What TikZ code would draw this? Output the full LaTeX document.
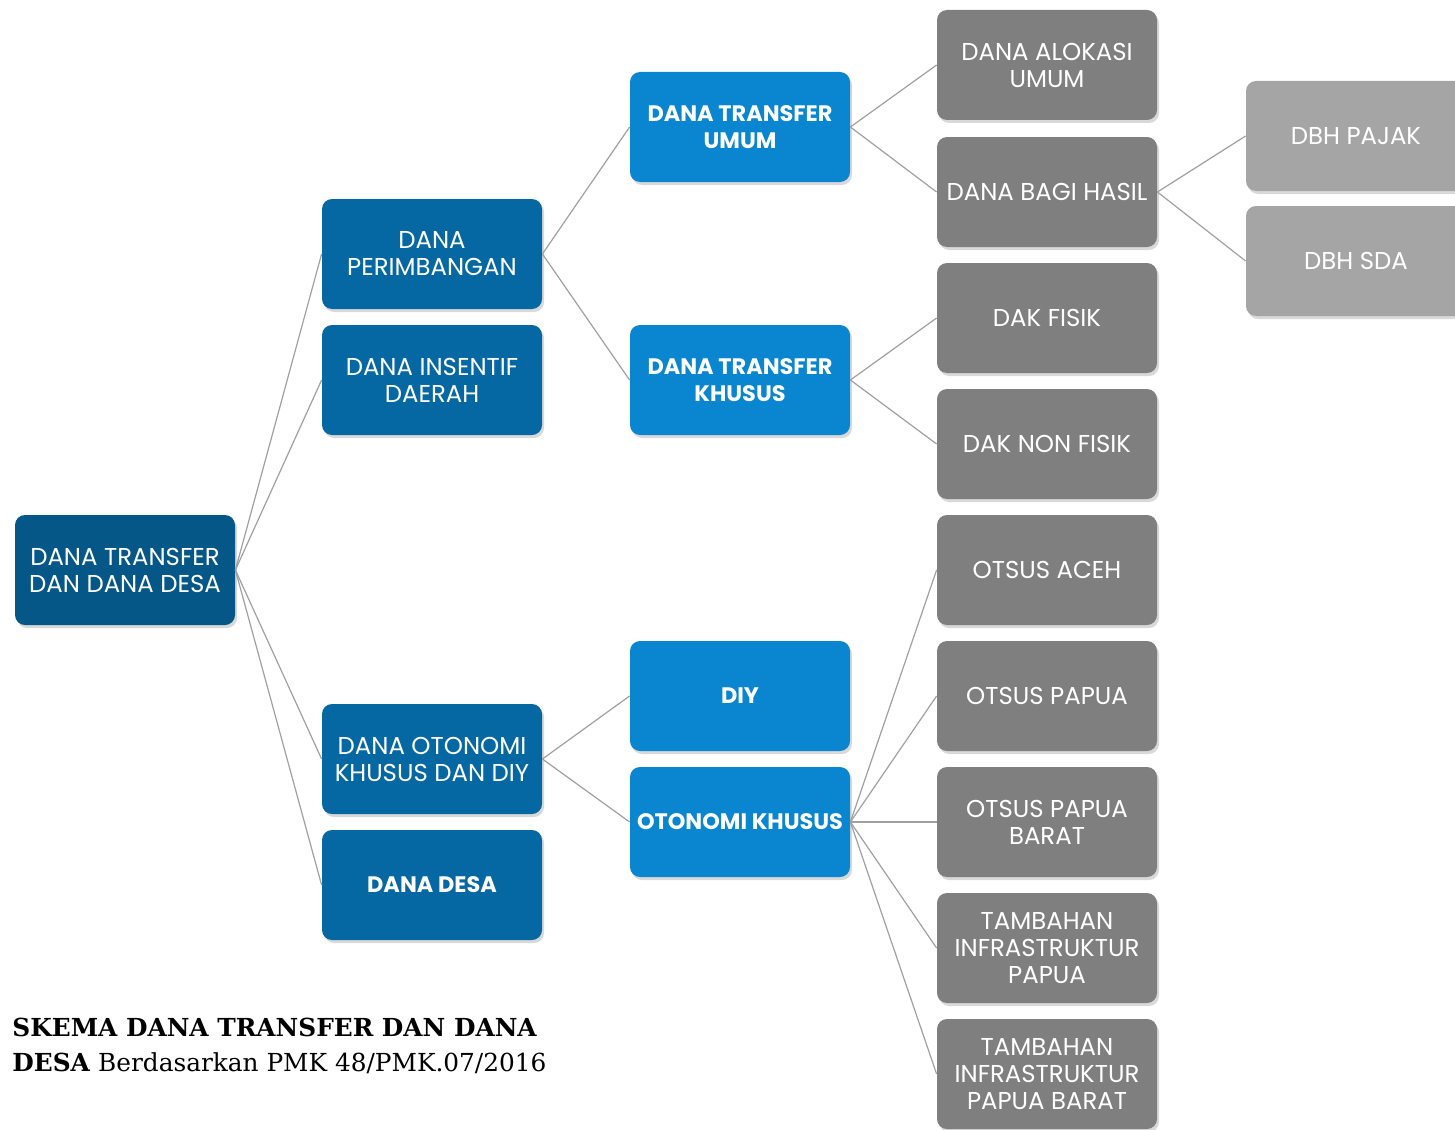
\documentclass[tikz,border=0pt]{standalone}
\usepackage{fontspec}
\setmainfont{Poppins}
\newfontfamily\capfont{DejaVu Serif}
\usetikzlibrary{shadows}

\definecolor{rootblue}{HTML}{045787}
\definecolor{midblue}{HTML}{0568A3}
\definecolor{brightblue}{HTML}{0A86D0}
\definecolor{darkgrey}{HTML}{7F7F7F}
\definecolor{lightgrey}{HTML}{A5A5A5}
\definecolor{linkgrey}{HTML}{A0A0A0}

\tikzset{
  box/.style={rectangle, rounded corners=5pt, minimum width=110pt, minimum height=55pt,
    text=white, align=center, inner sep=2pt, font=\fontsize{12.2}{13.5}\selectfont,
    drop shadow={shadow xshift=1pt, shadow yshift=-1.5pt, opacity=0.3}},
  rootbox/.style={box, fill=rootblue},
  lvlone/.style={box, fill=midblue},
  lvltwo/.style={box, fill=brightblue, font=\fontsize{11.2}{13.5}\selectfont\bfseries},
  lvlthree/.style={box, fill=darkgrey},
  lvlfour/.style={box, fill=lightgrey},
  link/.style={draw=linkgrey, line width=0.6pt},
}

\begin{document}
\begin{tikzpicture}[x=0.5pt, y=-0.5pt]
  \useasboundingbox (0,0) rectangle (1455,1129);
  % root
  \node[rootbox] (root) at (125,570) {DANA TRANSFER\\DAN DANA DESA};
  % first level
  \node[lvlone] (perimb) at (432,254) {DANA\\PERIMBANGAN};
  \node[lvlone] (insentif) at (432,380) {DANA INSENTIF\\DAERAH};
  \node[lvlone] (otdiy) at (432,759) {DANA OTONOMI\\KHUSUS DAN DIY};
  \node[lvlone, font=\fontsize{11.2}{13.5}\selectfont\bfseries] (desa) at (432,885) {DANA DESA};
  % second level
  \node[lvltwo] (dtu) at (740,127) {DANA TRANSFER\\UMUM};
  \node[lvltwo] (dtk) at (740,380) {DANA TRANSFER\\KHUSUS};
  \node[lvltwo] (diy) at (740,696) {DIY};
  \node[lvltwo] (otsus) at (740,822) {OTONOMI KHUSUS};
  % third level
  \foreach \n/\y/\txt in {dau/65/{DANA ALOKASI\\UMUM}, dbh/192/{DANA BAGI HASIL},
      dakf/318/{DAK FISIK}, daknf/444/{DAK NON FISIK}, aceh/570/{OTSUS ACEH},
      papua/696/{OTSUS PAPUA}, pabar/822/{OTSUS PAPUA\\BARAT},
      tipapua/948/{TAMBAHAN\\INFRASTRUKTUR\\PAPUA}, tipabar/1074/{TAMBAHAN\\INFRASTRUKTUR\\PAPUA BARAT}}
    \node[lvlthree] (\n) at (1047,\y) {\txt};
  % fourth level
  \node[lvlfour] (pajak) at (1356,136) {DBH PAJAK};
  \node[lvlfour] (sda) at (1356,261) {DBH SDA};
  % connectors
  \foreach \a/\b in {root/perimb, root/insentif, root/otdiy, root/desa,
      perimb/dtu, perimb/dtk, otdiy/diy, otdiy/otsus,
      dtu/dau, dtu/dbh, dtk/dakf, dtk/daknf,
      otsus/aceh, otsus/papua, otsus/pabar, otsus/tipapua, otsus/tipabar,
      dbh/pajak, dbh/sda}
    \draw[link] (\a.east) -- (\b.west);
  % caption
  \node[anchor=base west, align=left, inner sep=0pt,
    font=\capfont\fontsize{12.4}{17.5}\selectfont] (caption) at (12,1071)
    {\textbf{SKEMA DANA TRANSFER DAN DANA}\\\textbf{DESA} Berdasarkan PMK 48/PMK.07/2016};
\end{tikzpicture}
\end{document}
